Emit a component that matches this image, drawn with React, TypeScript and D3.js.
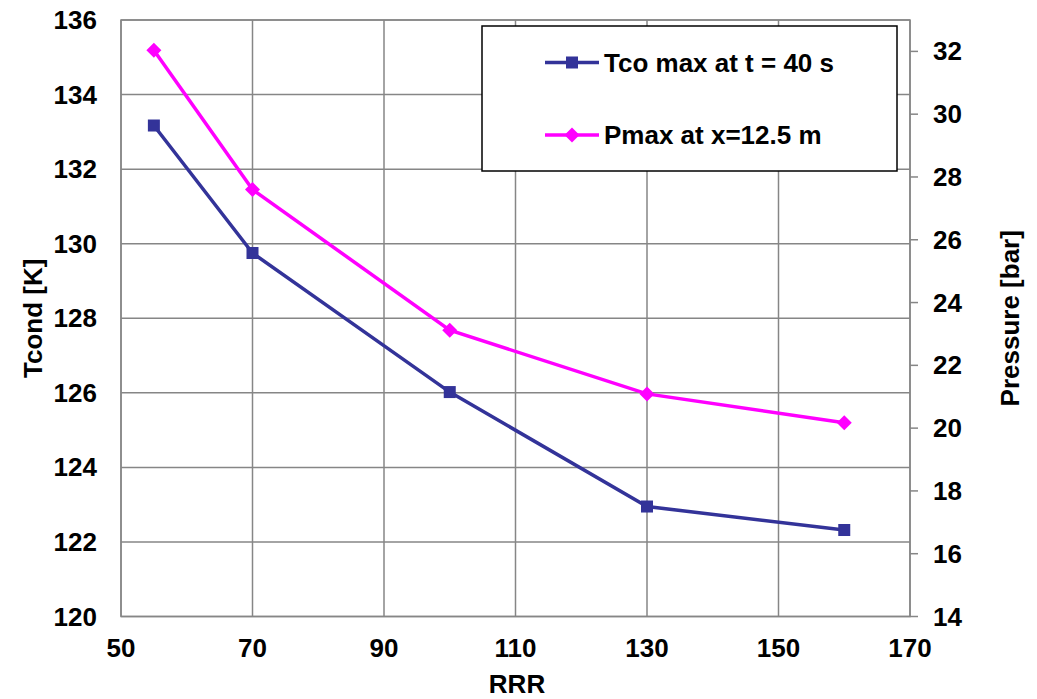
import React from "react";
import * as d3 from "d3";

const rrr = [55, 70, 100, 130, 160];
const tcoMax = [133.17, 129.75, 126.02, 122.95, 122.32];
const pMax = [32.04, 27.6, 23.12, 21.09, 20.17];
const xTicks = [50, 70, 90, 110, 130, 150, 170];
const yLeftTicks = [120, 122, 124, 126, 128, 130, 132, 134, 136];
const yRightTicks = [14, 16, 18, 20, 22, 24, 26, 28, 30, 32];
const seriesNames = ["Tco max at t = 40 s", "Pmax at x=12.5 m"];

const W = 1037;
const H = 699;
const L = 121, R = 910, T = 20, B = 616.5;
const FONT = "'Liberation Sans', Arial, sans-serif";
const NAVY = "#333399";
const MAG = "#FF00FF";
const GRID = "#868686";

export default function App() {
  const x = d3.scaleLinear().domain([50, 170]).range([L, R]);
  const yL = d3.scaleLinear().domain([120, 136]).range([B, T]);
  const yR = d3.scaleLinear().domain([14, 33]).range([B, T]);

  const lineT = d3.line<number>().x((_, i) => x(rrr[i])).y((d) => yL(d));
  const lineP = d3.line<number>().x((_, i) => x(rrr[i])).y((d) => yR(d));

  const fs = 26;
  const diamond = (cx: number, cy: number, r: number) =>
    `M${cx},${cy - r}L${cx + r},${cy}L${cx},${cy + r}L${cx - r},${cy}Z`;

  return (
    <svg
      width={W}
      height={H}
      style={{ position: "absolute", left: 0, top: 0 }}
      fontFamily={FONT}
      fontWeight="bold"
    >
      <rect x={0} y={0} width={W} height={H} fill="#fff" />
      {/* gridlines */}
      {xTicks.map((t) => (
        <line key={"gx" + t} x1={x(t)} x2={x(t)} y1={T} y2={B} stroke={GRID} strokeWidth={1.5} />
      ))}
      {yLeftTicks.map((t) => (
        <line key={"gy" + t} x1={L} x2={R} y1={yL(t)} y2={yL(t)} stroke={GRID} strokeWidth={1.5} />
      ))}
      <rect x={L} y={T} width={R - L} height={B - T} fill="none" stroke={GRID} strokeWidth={1.5} />
      {/* right ticks */}
      {yRightTicks.map((t) => (
        <line key={"rt" + t} x1={R} x2={R + 8} y1={yR(t)} y2={yR(t)} stroke={GRID} strokeWidth={1.5} />
      ))}
      {/* tick labels */}
      {yLeftTicks.map((t) => (
        <text key={"lt" + t} x={97} y={yL(t)} dy="0.35em" textAnchor="end" fontSize={fs}>
          {t}
        </text>
      ))}
      {yRightTicks.map((t) => (
        <text key={"rl" + t} x={933} y={yR(t)} dy="0.35em" textAnchor="start" fontSize={fs}>
          {t}
        </text>
      ))}
      {xTicks.map((t) => (
        <text key={"xl" + t} x={x(t)} y={657} textAnchor="middle" fontSize={fs}>
          {t}
        </text>
      ))}
      {/* axis titles */}
      <text x={517} y={693} textAnchor="middle" fontSize={fs}>RRR</text>
      <text
        transform={`translate(42,${(T + B) / 2}) rotate(-90)`}
        textAnchor="middle"
        fontSize={fs}
      >
        Tcond [K]
      </text>
      <text
        transform={`translate(1019,${(T + B) / 2}) rotate(-90)`}
        textAnchor="middle"
        fontSize={fs}
      >
        Pressure [bar]
      </text>
      {/* series */}
      <path d={lineT(tcoMax) || ""} fill="none" stroke={NAVY} strokeWidth={3.5} />
      <path d={lineP(pMax) || ""} fill="none" stroke={MAG} strokeWidth={3.5} />
      {tcoMax.map((v, i) => (
        <rect key={"mt" + i} x={x(rrr[i]) - 6} y={yL(v) - 6} width={12} height={12} fill={NAVY} />
      ))}
      {pMax.map((v, i) => (
        <path key={"mp" + i} d={diamond(x(rrr[i]), yR(v), 7.5)} fill={MAG} />
      ))}
      {/* legend */}
      <rect x={482} y={26} width={415} height={145} fill="#fff" stroke="#000" strokeWidth={1.5} />
      <line x1={545} x2={599} y1={62.5} y2={62.5} stroke={NAVY} strokeWidth={3.5} />
      <rect x={566} y={56.5} width={12} height={12} fill={NAVY} />
      <text x={604} y={62.5} dy="0.35em" fontSize={fs}>{seriesNames[0]}</text>
      <line x1={545} x2={599} y1={135} y2={135} stroke={MAG} strokeWidth={3.5} />
      <path d={diamond(572, 135, 7.5)} fill={MAG} />
      <text x={604} y={135} dy="0.35em" fontSize={fs}>{seriesNames[1]}</text>
    </svg>
  );
}
